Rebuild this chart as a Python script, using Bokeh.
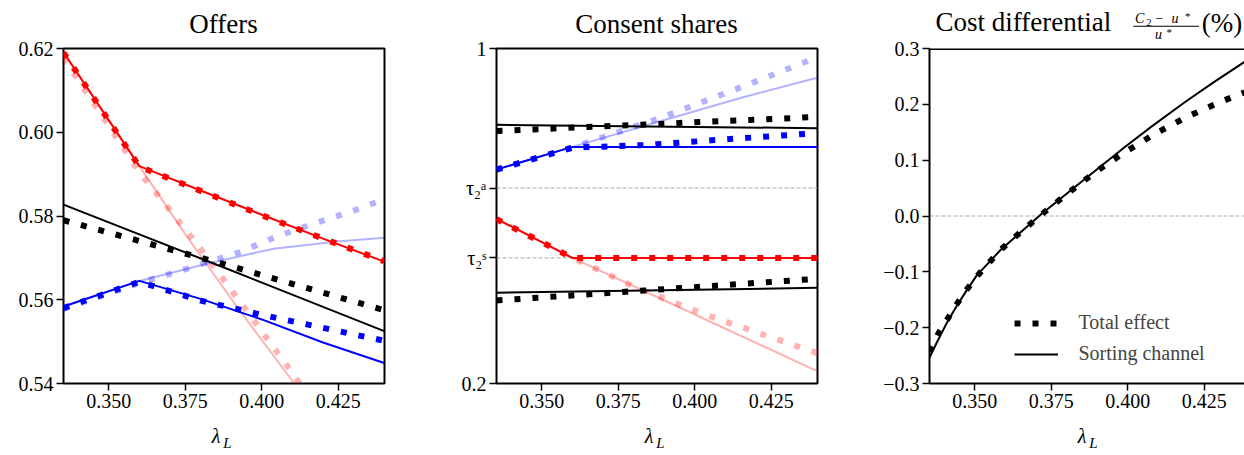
from bokeh.plotting import figure
from bokeh.models import Range1d, FixedTicker, Span, Legend, LegendItem, Div, InlineStyleSheet
from bokeh.layouts import row, column
from bokeh.embed import file_html
from bokeh.resources import INLINE

FONT = "Liberation Serif"
AXIS_FONT = "serif"
RED = "#ff0000"
BLUE = "#0000ff"
LIGHT_ALPHA = 0.3

# ---------------- Panel 1: Offers ----------------
offer_x = [0.3352, 0.36, 0.38, 0.40, 0.42, 0.44]
offer_high_sort = [0.6191, 0.5919, 0.5861, 0.5803, 0.5746, 0.5691]
offer_high_total = [0.6190, 0.5918, 0.5860, 0.5802, 0.5746, 0.5692]
offer_high_alt_x = [0.3352, 0.36, 0.376, 0.392, 0.41, 0.42]
offer_high_alt_sort = [0.6191, 0.5919, 0.5746, 0.5582, 0.5406, 0.5310]
offer_high_alt_total_x = [0.3352, 0.35, 0.36, 0.38, 0.40, 0.41, 0.42]
offer_high_alt_total = [0.6177, 0.6015, 0.5905, 0.5722, 0.5525, 0.5425, 0.5320]
offer_avg_x = [0.3352, 0.3876, 0.44]
offer_avg_sort = [0.5827, 0.5677, 0.5525]
offer_avg_total = [0.5790, 0.5685, 0.5575]
offer_low_sort = [0.5584, 0.5645, 0.5602, 0.5553, 0.5498, 0.5449]
offer_low_total = [0.5580, 0.5643, 0.5598, 0.5564, 0.5533, 0.5502]
offer_low_alt_x = [0.3352, 0.36, 0.382, 0.4039, 0.4247, 0.44]
offer_low_alt_sort = [0.5584, 0.5645, 0.5686, 0.5722, 0.5739, 0.5748]
offer_low_alt_total_x = [0.3352, 0.36, 0.3755, 0.393, 0.4039, 0.417, 0.429, 0.44]
offer_low_alt_total = [0.5578, 0.5640, 0.5674, 0.5714, 0.5748, 0.5782, 0.5810, 0.5840]
offer_yticks = [0.54, 0.56, 0.58, 0.60, 0.62]
offer_ylabels = ["0.54", "0.56", "0.58", "0.60", "0.62"]

# ---------------- Panel 2: Consent shares ----------------
share_x2 = [0.3352, 0.44]
share_avg_hi_sort = [0.8178, 0.8097]
share_avg_hi_total = [0.8030, 0.8365]
share_avg_lo_sort = [0.4166, 0.4285]
share_avg_lo_total = [0.3982, 0.4500]
share_kink_x = [0.3352, 0.36, 0.44]
share_blue_sort = [0.7110, 0.7650, 0.7650]
share_blue_total_x = [0.3352, 0.36, 0.3841, 0.4081, 0.44]
share_blue_total = [0.7110, 0.7630, 0.7695, 0.7820, 0.7980]
share_lblue_sort_x = [0.3352, 0.36, 0.3895, 0.4158, 0.44]
share_lblue_sort = [0.7110, 0.7650, 0.8280, 0.8837, 0.9300]
share_lblue_total_x = [0.3352, 0.36, 0.3863, 0.3961, 0.4202, 0.4354, 0.44]
share_lblue_total = [0.7100, 0.7640, 0.8280, 0.8543, 0.9220, 0.9659, 0.9785]
share_red_sort = [0.5933, 0.5000, 0.5000]
share_red_total = [0.5925, 0.5000, 0.5000]
share_pink_sort_x = [0.3352, 0.36, 0.40, 0.44]
share_pink_sort = [0.5933, 0.5000, 0.3647, 0.2294]
share_pink_total_x = [0.3352, 0.36, 0.38, 0.4027, 0.44]
share_pink_total = [0.5925, 0.5000, 0.4320, 0.3664, 0.2724]
tau_s = 0.5
tau_a = 0.6667
share_yticks = [0.2, tau_s, tau_a, 1.0]
share_ylabels = ["0.2", "\u03c4\u2082\u02e2", "\u03c4\u2082\u1d43", "1"]

# ---------------- Panel 3: Cost differential ----------------
cost_sort_x = [0.3352, 0.338, 0.341, 0.344, 0.3473, 0.3506, 0.3585, 0.3717,
               0.3853, 0.3995, 0.4081, 0.419, 0.4277, 0.4382]
cost_sort = [-0.2536, -0.2220, -0.1900, -0.1620, -0.1336, -0.1067, -0.0605, 0.0030,
             0.0630, 0.1254, 0.1614, 0.2050, 0.2381, 0.2759]
cost_total_x = [0.3352, 0.3380, 0.3440, 0.3473, 0.3506, 0.3585, 0.3627, 0.3715,
                0.3806, 0.3897, 0.3992, 0.4092, 0.4196, 0.4299, 0.4353, 0.4382]
cost_total = [-0.2430, -0.2115, -0.1588, -0.1324, -0.1085, -0.0604, -0.0396, 0.0013,
              0.0414, 0.0799, 0.1146, 0.1482, 0.1781, 0.2032, 0.2153, 0.2215]
cost_zero = 0.0
cost_yticks = [-0.3, -0.2, -0.1, 0.0, 0.1, 0.2, 0.3]
cost_ylabels = ["\u22120.3", "\u22120.2", "\u22120.1", "0.0", "0.1", "0.2", "0.3"]

x_ticks = [0.35, 0.375, 0.40, 0.425]
x_labels = ["0.350", "0.375", "0.400", "0.425"]

titles = ["Offers", "Consent shares", "Cost differential"]

DOT = dict(line_width=6, line_dash="6 12")
SOL = dict(line_width=2)
SERIF_CSS = (f":host {{ --bokeh-base-font: '{FONT}'; --base-font: '{FONT}', serif; "
             f"font-family: '{FONT}', serif !important; }} "
             f"*, :host *, svg, text, div {{ font-family: '{FONT}', serif !important; }}")


def serif_sheet():
    return InlineStyleSheet(css=SERIF_CSS)


def make_fig(width, left, right, xr, yr):
    p = figure(width=width, height=455, x_range=Range1d(*xr), y_range=Range1d(*yr),
               output_backend="svg", toolbar_location=None, title=None,
               min_border_left=left, min_border_right=right,
               min_border_top=48, min_border_bottom=72,
               stylesheets=[serif_sheet()])
    p.grid.visible = False
    p.outline_line_color = "black"
    p.outline_line_width = 2
    p.background_fill_color = "white"
    p.border_fill_color = "white"
    for ax in (p.xaxis[0], p.yaxis[0]):
        ax.axis_line_color = None
        ax.major_tick_in = 0
        ax.major_tick_out = 7
        ax.major_tick_line_width = 1.5
        ax.minor_tick_line_color = None
        ax.major_label_text_font = AXIS_FONT
        ax.major_label_text_font_size = "20px"
        ax.major_label_text_color = "black"
        ax.major_label_standoff = 3
    p.xaxis[0].ticker = FixedTicker(ticks=x_ticks)
    p.xaxis[0].major_label_overrides = dict(zip(x_ticks, x_labels))
    p.xaxis[0].major_label_standoff = 3
    return p


# ---------- figure 1 ----------
p1 = make_fig(420, 63, 36, (0.3352, 0.4401), (0.54, 0.62))
p1.yaxis[0].ticker = FixedTicker(ticks=offer_yticks)
p1.yaxis[0].major_label_overrides = dict(zip(offer_yticks, offer_ylabels))
p1.line(offer_high_alt_x, offer_high_alt_sort, color=RED, alpha=LIGHT_ALPHA, **SOL)
p1.line(offer_high_alt_total_x, offer_high_alt_total, color=RED, alpha=LIGHT_ALPHA, **DOT)
p1.line(offer_low_alt_x, offer_low_alt_sort, color=BLUE, alpha=LIGHT_ALPHA, **SOL)
p1.line(offer_low_alt_total_x, offer_low_alt_total, color=BLUE, alpha=LIGHT_ALPHA, **DOT)
p1.line(offer_avg_x, offer_avg_sort, color="black", **SOL)
p1.line(offer_avg_x, offer_avg_total, color="black", **DOT)
p1.line(offer_x, offer_low_sort, color=BLUE, **SOL)
p1.line(offer_x, offer_low_total, color=BLUE, **DOT)
p1.line(offer_x, offer_high_sort, color=RED, **SOL)
p1.line(offer_x, offer_high_total, color=RED, **DOT)

# ---------- figure 2 ----------
p2 = make_fig(420, 76, 23, (0.3352, 0.4401), (0.2, 1.0))
p2.yaxis[0].ticker = FixedTicker(ticks=share_yticks)
p2.yaxis[0].major_label_overrides = dict(zip(share_yticks, share_ylabels))
for lvl in (tau_s, tau_a):
    p2.add_layout(Span(location=lvl, dimension="width", line_color="#aaaaaa",
                       line_width=1, line_dash="4 2", level="underlay"))
p2.line(share_pink_sort_x, share_pink_sort, color=RED, alpha=LIGHT_ALPHA, **SOL)
p2.line(share_pink_total_x, share_pink_total, color=RED, alpha=LIGHT_ALPHA, **DOT)
p2.line(share_lblue_sort_x, share_lblue_sort, color=BLUE, alpha=LIGHT_ALPHA, **SOL)
p2.line(share_lblue_total_x, share_lblue_total, color=BLUE, alpha=LIGHT_ALPHA, **DOT)
p2.line(share_x2, share_avg_hi_sort, color="black", **SOL)
p2.line(share_x2, share_avg_hi_total, color="black", **DOT)
p2.line(share_x2, share_avg_lo_sort, color="black", **SOL)
p2.line(share_x2, share_avg_lo_total, color="black", **DOT)
p2.line(share_kink_x, share_blue_sort, color=BLUE, **SOL)
p2.line(share_blue_total_x, share_blue_total, color=BLUE, **DOT)
p2.line(share_kink_x, share_red_sort, color=RED, **SOL)
p2.line(share_kink_x, share_red_total, color=RED, **DOT)

# ---------- figure 3 ----------
p3 = make_fig(404, 89, 0, (0.3352, 0.4382), (-0.3, 0.3))
p3.outline_line_color = None
for ax in (p3.xaxis[0], p3.yaxis[0]):
    ax.axis_line_color = "black"
    ax.axis_line_width = 2
p3.add_layout(Span(location=0.3, dimension="width", line_color="black", line_width=3))
p3.yaxis[0].ticker = FixedTicker(ticks=cost_yticks)
p3.yaxis[0].major_label_overrides = dict(zip(cost_yticks, cost_ylabels))
p3.add_layout(Span(location=cost_zero, dimension="width", line_color="#aaaaaa",
                   line_width=1, line_dash="4 2", level="underlay"))
r_tot = p3.line(cost_total_x, cost_total, color="black", **DOT)
r_sort = p3.line(cost_sort_x, cost_sort, color="black", **SOL)
legend = Legend(items=[LegendItem(label="Total effect", renderers=[r_tot]),
                       LegendItem(label="Sorting channel", renderers=[r_sort])],
                location=(84.5, 17.3), border_line_color=None, background_fill_alpha=0,
                label_text_font=AXIS_FONT, label_text_font_size="20px",
                glyph_width=44, glyph_height=24, label_height=24, label_standoff=21,
                spacing=7, padding=0, margin=0)
p3.add_layout(legend)


def svg_text(x, y, txt, size, italic=False, anchor="start"):
    st = (f"font-family:'{FONT}',serif;font-size:{size}px;"
          f"font-style:{'italic' if italic else 'normal'};fill:black")
    return f'<text x="{x:.1f}" y="{y:.1f}" text-anchor="{anchor}" style="{st}">{txt}</text>'


# ---------- titles and x-axis labels, drawn in a transparent overlay ----------
parts = [
    svg_text(223.5, 33.3, titles[0], 27, anchor="middle"),
    svg_text(656.5, 33.3, titles[1], 27, anchor="middle"),
    svg_text(935.5, 30.7, titles[2], 27),
    svg_text(1135, 22.8, "C", 14, italic=True),
    svg_text(1146.5, 25.8, "2", 10),
    svg_text(1155.5, 22.8, "\u2212", 14),
    svg_text(1171.5, 22.8, "u", 14, italic=True),
    svg_text(1185, 20.2, "*", 11),
    '<line x1="1133.3" y1="26.2" x2="1199" y2="26.2" stroke="black" stroke-width="1.1"/>',
    svg_text(1155, 38.6, "u", 14, italic=True),
    svg_text(1166.5, 35.8, "*", 11),
    svg_text(1201.7, 32, "(%)", 27),
]
for fl in (63, 496, 929):
    parts.append(svg_text(fl + 148.7, 443.3, "\u03bb", 20, italic=True))
    parts.append(svg_text(fl + 160.3, 448.3, "L", 15, italic=True))
overlay_svg = ('<svg xmlns="http://www.w3.org/2000/svg" width="1244" height="455" '
               'style="display:block;overflow:visible">' + "".join(parts) + '</svg>')

overlay = Div(text=overlay_svg, width=1244, height=455, margin=(0, 0, 0, 0),
              styles={"position": "absolute", "top": "0px", "left": "0px",
                      "z-index": "10", "pointer-events": "none", "overflow": "visible"})

layout = column(row(p1, p2, p3, stylesheets=[serif_sheet()]), overlay,
                stylesheets=[serif_sheet()])
open("out.html", "w").write(file_html(layout, INLINE))
